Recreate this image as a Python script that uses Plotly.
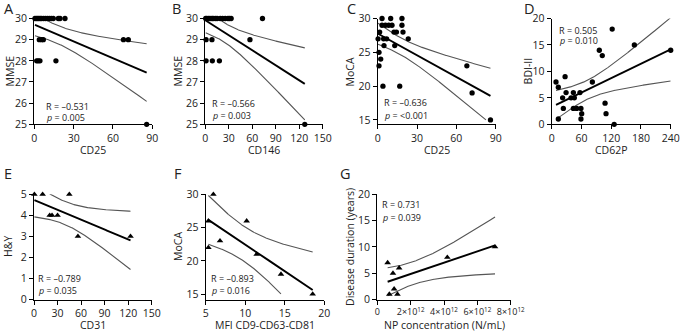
import math
import numpy as np
import plotly.graph_objects as go

# ---------------- data ----------------
a_cd25 = [0.5, 1.5, 2.5, 3.5, 4.5, 5.5, 7, 8.5, 10, 11.5, 13, 14.5, 18.3, 19.6, 23.4,
          3.8, 5.6, 6.9, 68, 71.7,
          1.8, 3, 4.3, 16.5,
          85.7]
a_mmse = [30] * 15 + [29] * 5 + [28] * 4 + [25]

b_cd146 = [0.5, 2, 4, 6, 8.5, 10, 12.7, 15, 19, 22, 25.4, 29, 31, 33, 73,
           1, 8.5, 57,
           1, 9, 18,
           127]
b_mmse = [30] * 15 + [29] * 3 + [28] * 3 + [25]

c_cd25 = [3.3, 9.9, 18.5,
          3.3, 5.9, 8.4, 10.9, 18.5,
          1.5, 12.4, 14.3, 19.3,
          0.3, 4.5, 6.8, 23.3,
          4.8, 13,
          1, 2.3, 1, 68,
          4, 16.8, 72, 86]
c_moca = [30] * 3 + [29] * 5 + [28] * 4 + [27] * 4 + [26] * 2 + [25, 24, 23, 23, 20, 20, 19, 15]

d_cd62p = [8.7, 13.4, 27, 13.4, 22, 23.5, 29, 39, 43.7, 45.7, 43.7, 50.4, 57, 59, 60.5, 59,
           82, 96, 102, 107.6, 109.6, 122, 126, 166.7, 240]
d_bdi = [8, 7, 9, 1, 5, 3, 6, 5, 6, 5, 3, 3, 6, 3, 2, 1,
         8, 14, 13, 4, 2, 18, 0, 15, 14]

e_cd31 = [0.5, 11, 45, 20, 23, 30, 56, 123]
e_hy = [5, 5, 5, 4, 4, 4, 3, 3]

f_mfi = [5.97, 5.34, 10.18, 6.81, 5.34, 11.45, 14.52, 18.53]
f_moca = [30, 26, 26, 23, 22, 21, 18, 15]

g_np = [0.62e12, 0.94e12, 1.31e12, 0.72e12, 1.01e12, 1.21e12, 4.2e12, 7.06e12]
g_duration = [7, 5, 6, 1, 2, 1, 8, 10]

stats_text = {
    "A": ("R = –0.531", "0.005"),
    "B": ("R = –0.566", "0.003"),
    "C": ("R = –0.636", "<0.001"),
    "D": ("R = 0.505", "0.010"),
    "E": ("R = –0.789", "0.035"),
    "F": ("R = –0.893", "0.016"),
    "G": ("R = 0.731", "0.039"),
}

x_titles = {"A": "CD25", "B": "CD146", "C": "CD25", "D": "CD62P", "E": "CD31",
            "F": "MFI CD9-CD63-CD81", "G": "NP concentration (N/mL)"}
y_titles = {"A": "MMSE", "B": "MMSE", "C": "MoCA", "D": "BDI-II", "E": "H&Y",
            "F": "MoCA", "G": "Disease duration (years)"}

g_tickvals = [0, 2e12, 4e12, 6e12, 8e12]
g_ticktext = ["0", "2×10<sup>12</sup>", "4×10<sup>12</sup>", "6×10<sup>12</sup>", "8×10<sup>12</sup>"]

# ---------------- helpers ----------------
def t975(df):
    c = math.gamma((df + 1) / 2) / (math.sqrt(df * math.pi) * math.gamma(df / 2))

    def cdf(t):
        xs = np.linspace(0, t, 4001)
        pdf = c * (1 + xs ** 2 / df) ** (-(df + 1) / 2)
        return 0.5 + np.trapezoid(pdf, xs)

    lo, hi = 0.0, 20.0
    for _ in range(60):
        mid = (lo + hi) / 2
        if cdf(mid) < 0.975:
            lo = mid
        else:
            hi = mid
    return (lo + hi) / 2


def fit_with_ci(x, y, npts=300):
    x = np.asarray(x, float)
    y = np.asarray(y, float)
    n = len(x)
    mx, my = x.mean(), y.mean()
    sxx = ((x - mx) ** 2).sum()
    slope = ((x - mx) * (y - my)).sum() / sxx
    icpt = my - slope * mx
    res = y - (icpt + slope * x)
    s = math.sqrt((res ** 2).sum() / (n - 2))
    t = t975(n - 2)
    xs = np.linspace(x.min(), x.max(), npts)
    yh = icpt + slope * xs
    half = t * s * np.sqrt(1 / n + (xs - mx) ** 2 / sxx)
    return xs, yh, yh - half, yh + half


W, H = 680, 331
FONT = "Open Sans"
TXT = "#222222"

def px(v):
    return v / W

def py(v):
    return 1 - v / H

row_y = {1: (124.3, 18.5), 2: (299.5, 194.3)}

panels = [
    dict(k="A", x=a_cd25, y=a_mmse, xd=(34.3, 152.3), row=1, xr=[0, 90], xt=[0, 30, 60, 90],
         yr=[25, 30], yt=[25, 26, 27, 28, 29, 30], sym="circle", ytx=10, sx=44, sy=(106, 117),
         lx=2, ly=8, clip=None),
    dict(k="B", x=b_cd146, y=b_mmse, xd=(205.3, 322.8), row=1, xr=[0, 150], xt=[0, 30, 60, 90, 120, 150],
         yr=[25, 30], yt=[25, 26, 27, 28, 29, 30], sym="circle", ytx=178, sx=210, sy=(103.5, 115.5),
         lx=170, ly=8, clip=None),
    dict(k="C", x=c_cd25, y=c_moca, xd=(377.7, 495.7), row=1, xr=[0, 90], xt=[0, 30, 60, 90],
         yr=[14.36, 30], yt=[15, 20, 25, 30], sym="circle", ytx=350, sx=381.5, sy=(103, 116),
         lx=345, ly=8, clip=15),
    dict(k="D", x=d_cd62p, y=d_bdi, xd=(551.7, 670.7), row=1, xr=[0, 240], xt=[0, 60, 120, 180, 240],
         yr=[0, 20], yt=[0, 5, 10, 15, 20], sym="circle", ytx=528, sx=556.5, sy=(30, 41),
         lx=522, ly=8, clip=None),
    dict(k="E", x=e_cd31, y=e_hy, xd=(34.0, 151.7), row=2, xr=[0, 150], xt=[0, 30, 60, 90, 120, 150],
         yr=[0, 5], yt=[0, 1, 2, 3, 4, 5], sym="triangle-up", ytx=8, sx=35.5, sy=(278.5, 290.5),
         lx=2, ly=174, clip=None),
    dict(k="F", x=f_mfi, y=f_moca, xd=(205.7, 324.3), row=2, xr=[5, 20], xt=[5, 10, 15, 20],
         yr=[14.2, 30], yt=[15, 20, 25, 30], sym="triangle-up", ytx=178, sx=209, sy=(278.5, 290),
         lx=172, ly=173, clip=15),
    dict(k="G", x=g_np, y=g_duration, xd=(377.3, 510.7), row=2, xr=[0, 8e12], xt=g_tickvals,
         yr=[0, 20], yt=[0, 5, 10, 15, 20], sym="triangle-up", ytx=350, sx=380, sy=(205, 217),
         lx=338, ly=174, clip=None),
]

fig = go.Figure()
annotations = []
layout_axes = {}

for i, p in enumerate(panels, start=1):
    xa = "x" if i == 1 else f"x{i}"
    ya = "y" if i == 1 else f"y{i}"
    xs, yh, lo, hi = fit_with_ci(p["x"], p["y"])
    if p["clip"] is not None:
        lo = np.where(lo >= p["clip"], lo, np.nan)
    for band in (lo, hi):
        fig.add_trace(go.Scatter(x=xs, y=band, mode="lines", xaxis=xa, yaxis=ya,
                                 line=dict(color="#555555", width=1.1), showlegend=False,
                                 hoverinfo="skip"))
    fig.add_trace(go.Scatter(x=xs, y=yh, mode="lines", xaxis=xa, yaxis=ya,
                             line=dict(color="black", width=1.9), showlegend=False, hoverinfo="skip"))
    fig.add_trace(go.Scatter(x=p["x"], y=p["y"], mode="markers", xaxis=xa, yaxis=ya,
                             marker=dict(symbol=p["sym"], color="black",
                                         size=5.3 if p["sym"] == "circle" else 5.8,
                                         line=dict(width=0)),
                             cliponaxis=False, showlegend=False))

    bottom, top = row_y[p["row"]]
    axis_common = dict(showline=True, linecolor="black", linewidth=1.3, ticks="outside",
                       ticklen=4, tickwidth=1.2, tickcolor="black", showgrid=False,
                       zeroline=False, automargin=False, tickangle=0,
                       tickfont=dict(family=FONT, size=10.5, color=TXT))
    xkey = "xaxis" if i == 1 else f"xaxis{i}"
    ykey = "yaxis" if i == 1 else f"yaxis{i}"
    xdict = dict(axis_common, domain=[px(p["xd"][0]), px(p["xd"][1])], range=p["xr"],
                 tickvals=p["xt"], anchor=ya)
    if p["k"] == "G":
        xdict["ticktext"] = g_ticktext
        xdict["tickfont"] = dict(family=FONT, size=9, color=TXT)
    layout_axes[xkey] = xdict
    layout_axes[ykey] = dict(axis_common, domain=[py(bottom), py(top)], range=p["yr"],
                             tickvals=p["yt"], anchor=xa)

    # panel letter
    annotations.append(dict(text=p["k"], x=px(p["lx"]), y=py(p["ly"]), xref="paper", yref="paper",
                            xanchor="left", yanchor="middle", showarrow=False,
                            font=dict(family=FONT, size=14.5, color=TXT)))
    # stats text
    r_txt, p_val = stats_text[p["k"]]
    annotations.append(dict(text=r_txt, x=px(p["sx"]), y=py(p["sy"][0]), xref="paper", yref="paper",
                            xanchor="left", yanchor="middle", showarrow=False,
                            font=dict(family=FONT, size=9, color=TXT)))
    annotations.append(dict(text="<i>p</i> = " + p_val, x=px(p["sx"]), y=py(p["sy"][1]),
                            xref="paper", yref="paper", xanchor="left", yanchor="middle",
                            showarrow=False, font=dict(family=FONT, size=9, color=TXT)))
    # axis titles
    xc = (p["xd"][0] + p["xd"][1]) / 2
    annotations.append(dict(text=x_titles[p["k"]], x=px(xc), y=py(bottom + 25.5), xref="paper",
                            yref="paper", xanchor="center", yanchor="middle", showarrow=False,
                            font=dict(family=FONT, size=10.5, color=TXT)))
    yc = (bottom + top) / 2
    annotations.append(dict(text=y_titles[p["k"]], x=px(p["ytx"]), y=py(yc), xref="paper",
                            yref="paper", xanchor="center", yanchor="middle", showarrow=False,
                            textangle=-90, font=dict(family=FONT, size=10.5, color=TXT)))

fig.update_layout(width=W, height=H, margin=dict(l=0, r=0, t=0, b=0, autoexpand=False),
                  paper_bgcolor="white", plot_bgcolor="white", showlegend=False,
                  font=dict(family=FONT, color=TXT), annotations=annotations, **layout_axes)

fig.write_html("out.html", config={"displayModeBar": False},
               post_script="document.body.style.margin='0';document.body.style.padding='0';"
                           "document.body.style.overflow='hidden';")
